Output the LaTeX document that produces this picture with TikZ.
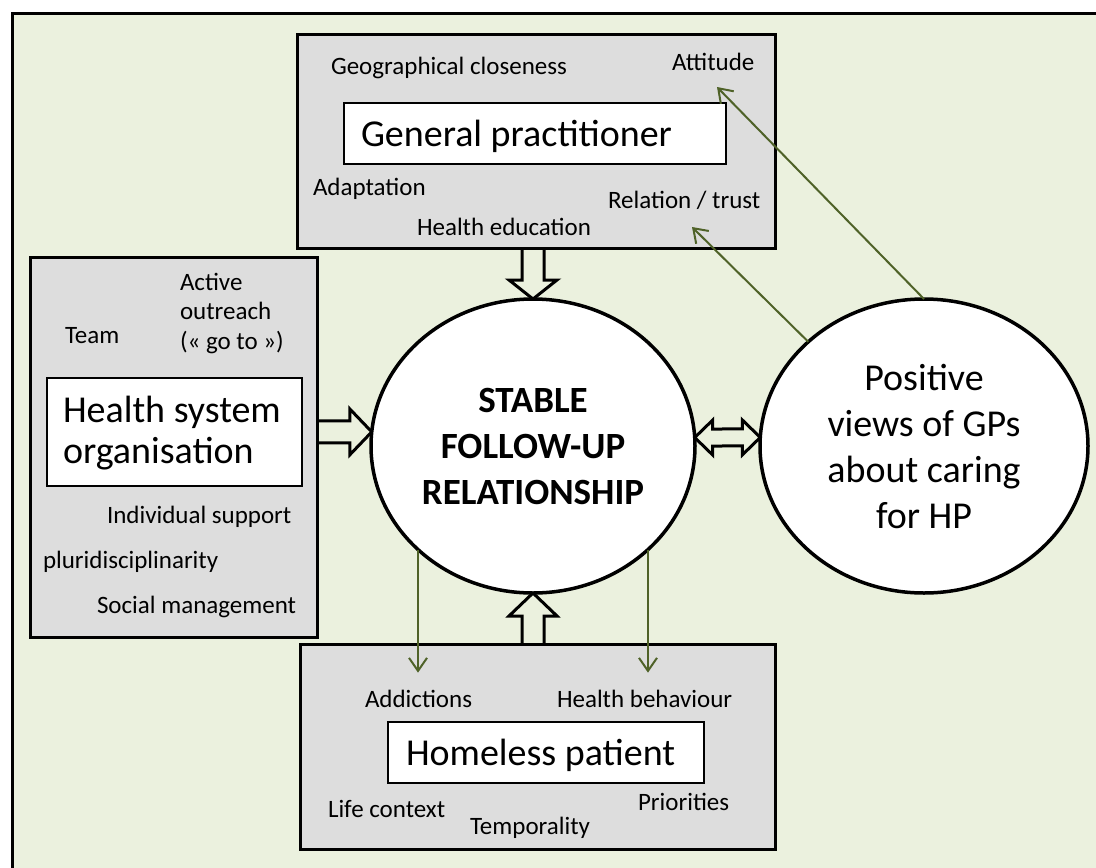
\documentclass[tikz,border=0pt]{standalone}
\usepackage{fontspec}
\setmainfont{Carlito}
\usetikzlibrary{shapes.geometric,calc,arrows.meta}
\definecolor{bggreen}{HTML}{EBF1DE}
\definecolor{boxgray}{HTML}{DDDDDD}
\definecolor{olivearrow}{HTML}{4F6228}
\pgfdeclarelayer{back}
\pgfdeclarelayer{mid}
\pgfsetlayers{back,mid,main}
\begin{document}
\begin{tikzpicture}[x=1pt,y=-1pt,
  every node/.style={inner sep=0pt, outer sep=0pt},
  grpbox/.style={draw, line width=3pt, fill=boxgray, rectangle},
  whitebox/.style={draw, line width=2.5pt, fill=white, rectangle},
  lbl/.style={anchor=base west, font=\fontsize{25}{29.5}\selectfont, align=left},
  big/.style={anchor=base west, font=\fontsize{38}{41}\selectfont, align=left},
  oval/.style={draw, ellipse, line width=3.5pt, fill=white, align=center},
  blockarrow/.style={draw, line width=3pt, fill=bggreen, line join=miter},
  garrow/.style={draw=olivearrow, line width=2pt, -{Straight Barb[length=13pt,width=18pt]}}]
\useasboundingbox (0,0) rectangle (1096,868);
\begin{pgfonlayer}{back}
\fill[bggreen] (12,13) rectangle (1096,868);
\draw[line width=3pt, line join=miter] (12,868) -- (12,13) -- (1096,13);
\end{pgfonlayer}

% General practitioner box
\node[grpbox, minimum width=478pt, minimum height=214pt] (gp) at (536,141) {};
\node[whitebox, minimum width=382pt, minimum height=61pt] (gpin) at (535,133.5) {};
\node[big] (gptxt) at (361,146) {General practitioner};
\node[lbl] (geo) at (331,74) {Geographical closeness};
\node[lbl] (att) at (672,70) {Attitude};
\node[lbl] (adapt) at (313,195) {Adaptation};
\node[lbl] (rel) at (608,208) {Relation / trust};
\node[lbl] (hed) at (417,235) {Health education};

% Health system box
\node[grpbox, minimum width=287pt, minimum height=380pt] (hs) at (173.5,447) {};
\node[whitebox, minimum width=255pt, minimum height=108pt] (hsin) at (174.5,432) {};
\node[big] (hstxt) at (63,463) {Health system\\organisation};
\node[lbl] (team) at (65,343) {Team};
\node[lbl] (act) at (180,349) {Active\\outreach\\(« go to »)};
\node[lbl] (ind) at (107,523) {Individual support};
\node[lbl] (plu) at (43,568) {pluridisciplinarity};
\node[lbl] (soc) at (97,613) {Social management};

% Homeless patient box
\node[grpbox, minimum width=475pt, minimum height=205pt] (hp) at (537.5,746.5) {};
\node[whitebox, minimum width=316pt, minimum height=61pt] (hpin) at (546,752.5) {};
\node[big] (hptxt) at (406,765) {Homeless patient};
\node[lbl] (addi) at (365,707) {Addictions};
\node[lbl] (hbeh) at (557,707) {Health behaviour};
\node[lbl] (life) at (328,817) {Life context};
\node[lbl] (temp) at (470,834) {Temporality};
\node[lbl] (prio) at (638,810) {Priorities};

% circles
\node[oval, minimum width=324pt, minimum height=294pt, font=\bfseries\fontsize{37}{46}\selectfont] (sfr) at (533,446) {STABLE\\FOLLOW-UP\\RELATIONSHIP};
\node[oval, minimum width=328pt, minimum height=294pt, font=\fontsize{38}{46}\selectfont] (pv) at (924,446) {Positive\\views of GPs\\about caring\\for HP};

% block arrows
\begin{pgfonlayer}{mid}
\draw[blockarrow] ($(sfr.north |- gp.south)+(-11,0)$) -- ($(sfr.north)+(-11,-19)$) -- ($(sfr.north)+(-24,-19)$) -- (sfr.north) -- ($(sfr.north)+(24,-19)$) -- ($(sfr.north)+(11,-19)$) -- ($(sfr.north |- gp.south)+(11,0)$);
\draw[blockarrow] ($(sfr.south |- hp.north)+(-11,0)$) -- ($(sfr.south)+(-11,23)$) -- ($(sfr.south)+(-24,23)$) -- (sfr.south) -- ($(sfr.south)+(24,23)$) -- ($(sfr.south)+(11,23)$) -- ($(sfr.south |- hp.north)+(11,0)$);
\draw[blockarrow] ($(sfr.175 -| hs.east)+(0,-11)$) -- ($(sfr.175)+(-22,-11)$) -- ($(sfr.175)+(-22,-23)$) -- (sfr.175) -- ($(sfr.175)+(-22,23)$) -- ($(sfr.175)+(-22,11)$) -- ($(sfr.175 -| hs.east)+(0,11)$);
\draw[blockarrow] (sfr.3) -- ($(sfr.3)+(18,-17.5)$) -- ($(sfr.3)+(18,-8.5)$) -- ($(pv.177)+(-18,-8.5)$) -- ($(pv.177)+(-18,-17.5)$) -- (pv.177) -- ($(pv.177)+(-18,17.5)$) -- ($(pv.177)+(-18,8.5)$) -- ($(sfr.3)+(18,8.5)$) -- ($(sfr.3)+(18,17.5)$) -- cycle;
\end{pgfonlayer}

% green arrows
\coordinate (reltip) at (692,227);
\coordinate (atttip) at (717,87);
\draw[garrow] (sfr.222.5) -- ($(sfr.222.5 |- addi.north)+(0,-17)$);
\draw[garrow] (sfr.318) -- ($(sfr.318 |- hbeh.north)+(0,-17)$);
\draw[garrow] (pv.138) -- (reltip);
\draw[garrow] (pv.north) -- (atttip);
\end{tikzpicture}
\end{document}
